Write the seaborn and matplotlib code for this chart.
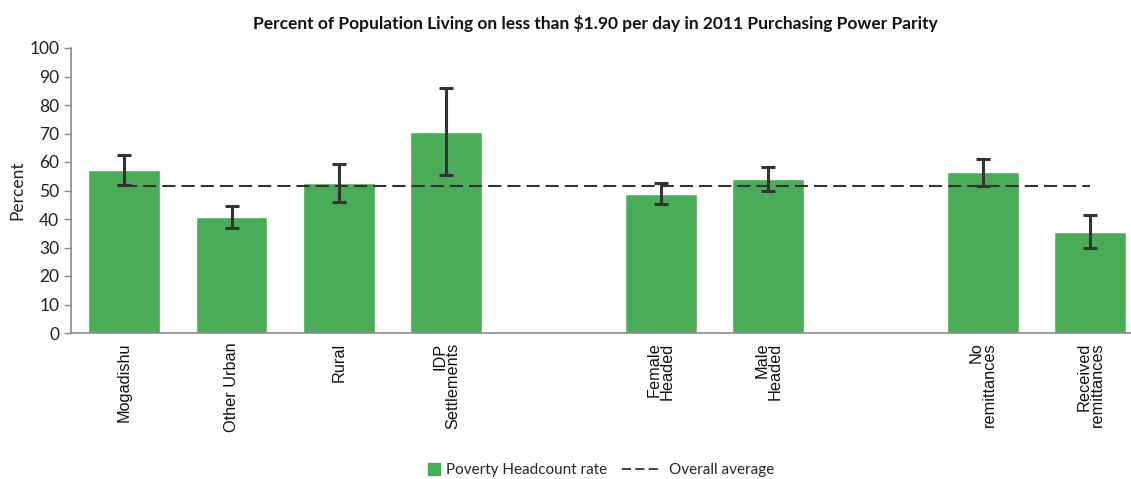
import matplotlib
matplotlib.use("Agg")
import matplotlib.pyplot as plt
from matplotlib.lines import Line2D
import seaborn as sns
import pandas as pd
import numpy as np

# ---- data ----
slots = ["Mogadishu", "Other Urban", "Rural", "IDP\nSettlements", "gap1",
         "Female\nHeaded", "Male\nHeaded", "gap2", "No\nremittances", "Received\nremittances"]
categories = ["Mogadishu", "Other Urban", "Rural", "IDP\nSettlements",
              "Female\nHeaded", "Male\nHeaded", "No\nremittances", "Received\nremittances"]
headcount = [57.3, 40.7, 52.6, 70.6, 48.9, 54.2, 56.6, 35.6]
ci_low = [52.0, 36.7, 46.0, 55.3, 45.3, 49.8, 51.6, 29.8]
ci_high = [62.6, 44.7, 59.4, 86.0, 52.6, 58.3, 61.2, 41.3]
overall_average = 51.7
yticks = list(range(0, 101, 10))

GREEN = "#4BAC57"
DARK = "#333333"
AXIS = "#8C8C8C"

sns.set_style("white")
plt.rcParams["font.family"] = ["Lato", "DejaVu Sans"]

df = pd.DataFrame({"cat": categories, "val": headcount})

W, H = 1131, 479
fig = plt.figure(figsize=(W / 100, H / 100), dpi=100)
left, right, top, bottom = 70.5, 1144, 48, 333
ax = fig.add_axes([left / W, 1 - bottom / H, (right - left) / W, (bottom - top) / H])

sns.barplot(data=df, x="cat", y="val", order=slots, color=GREEN, width=0.67,
            saturation=1, errorbar=None, ax=ax, zorder=2)

pos = [slots.index(c) for c in categories]
vals = np.array(headcount)
yerr = np.vstack([vals - np.array(ci_low), np.array(ci_high) - vals])
ax.errorbar(pos, vals, yerr=yerr, fmt="none", ecolor=DARK, elinewidth=2.2,
            capsize=5, capthick=2.2, zorder=4)

ax.plot([pos[0], pos[-1]], [overall_average, overall_average], color=DARK,
        lw=1.5, dashes=(6.3, 2.9), zorder=3)

ax.set_xlim(-0.5, len(slots) - 0.5)
ax.set_ylim(0, 100)
ax.set_yticks(yticks)
ax.set_yticklabels([str(t) for t in yticks], fontsize=12.5, color="#222222")

labels = ["" if s.startswith("gap") else s for s in slots]
ax.set_xticks(range(len(slots)))
ax.set_xticklabels(labels, rotation=90, ha="center", va="top", multialignment="right",
                   fontsize=11.7, family=["Liberation Sans", "DejaVu Sans"],
                   color="#111111", linespacing=0.85)
ax.set_xticks(np.arange(-0.5, len(slots), 1.0), minor=True)
ax.tick_params(axis="x", which="major", length=0, pad=7)
ax.tick_params(axis="x", which="minor", length=5, width=1, color=AXIS, direction="out")
ax.tick_params(axis="y", length=5, width=1, color=AXIS, direction="out", pad=3, left=True)
ax.set_xlabel("")
ax.set_ylabel("Percent", fontsize=12.5, color="#222222", labelpad=3)

for s in ["top", "right"]:
    ax.spines[s].set_visible(False)
for s in ["left", "bottom"]:
    ax.spines[s].set_color(AXIS)
    ax.spines[s].set_linewidth(1.2)

fig.text(595 / W, 1 - 24 / H, "Percent of Population Living on less than $1.90 per day in 2011 Purchasing Power Parity",
         ha="center", va="center", fontsize=12.5, fontweight="bold", color="#111111")

h1 = Line2D([], [], marker="s", markersize=8.5, color=GREEN, linestyle="none",
            label="Poverty Headcount rate")
h2 = Line2D([], [], color=DARK, lw=1.3, dashes=(5, 2.4), label="Overall average")
fig.legend(handles=[h1], loc="center left", bbox_to_anchor=(428 / W, 1 - 470 / H),
           frameon=False, fontsize=11, handlelength=0.8, handletextpad=0.4,
           borderaxespad=0, borderpad=0)
fig.legend(handles=[h2], loc="center left", bbox_to_anchor=(622 / W, 1 - 470 / H),
           frameon=False, fontsize=11, handlelength=2.6, handletextpad=0.5,
           borderaxespad=0, borderpad=0)

fig.savefig("out.png", dpi=100)
